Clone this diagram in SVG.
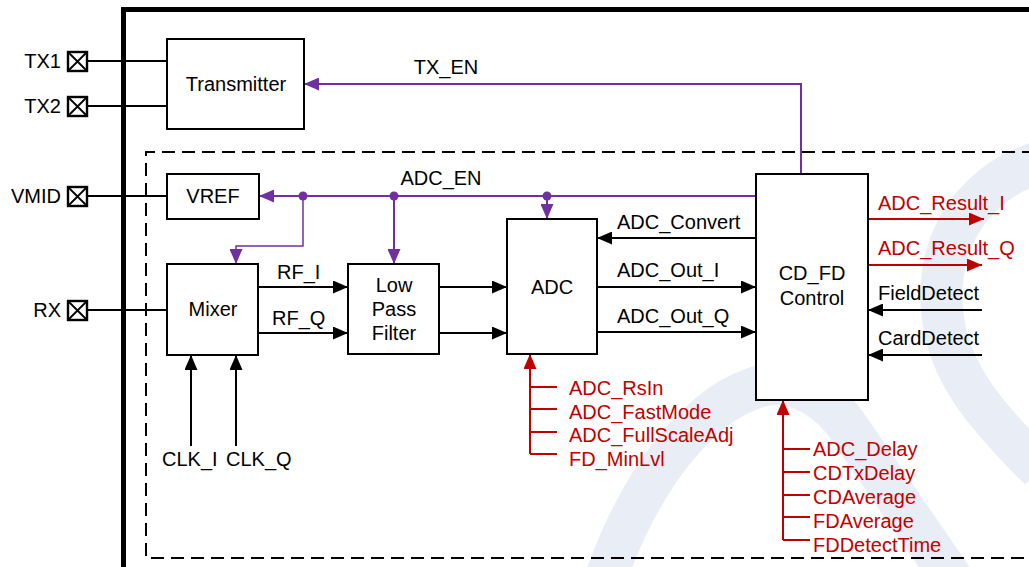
<svg xmlns="http://www.w3.org/2000/svg" width="1029" height="567" viewBox="0 0 1029 567">
<style>
text{font-family:"Liberation Sans",Arial,sans-serif;font-size:20px;fill:#000}
.r{fill:#c00000}
.mid{text-anchor:middle}
.end{text-anchor:end}
.box{fill:#fff;stroke:#000;stroke-width:2}
.k{fill:none;stroke:#000;stroke-width:2}
.p{fill:none;stroke:#7030a0;stroke-width:2}
.p1{fill:none;stroke:#7030a0;stroke-width:1.5}
.rd{fill:none;stroke:#c00000;stroke-width:2}
.wm{fill:none;stroke:#e9eef6;stroke-width:42;stroke-linecap:butt}
</style>
<defs>
<marker id="ak" markerUnits="userSpaceOnUse" markerWidth="15" markerHeight="13" viewBox="0 0 15 13" refX="15" refY="6.5" orient="auto"><path d="M0,0L15,6.5L0,13z" fill="#000"/></marker>
<marker id="ap" markerUnits="userSpaceOnUse" markerWidth="15" markerHeight="13" viewBox="0 0 15 13" refX="15" refY="6.5" orient="auto"><path d="M0,0L15,6.5L0,13z" fill="#7030a0"/></marker>
<marker id="ar" markerUnits="userSpaceOnUse" markerWidth="15" markerHeight="13" viewBox="0 0 15 13" refX="15" refY="6.5" orient="auto"><path d="M0,0L15,6.5L0,13z" fill="#c00000"/></marker>
<symbol id="pad" viewBox="0 0 19 19" overflow="visible"><rect x="0" y="0" width="19" height="19" fill="#fff" stroke="#000" stroke-width="2.4"/><path d="M0,0L19,19M19,0L0,19" stroke="#000" stroke-width="1.8"/></symbol>
</defs>
<rect width="1029" height="567" fill="#fff"/>
<g id="watermark">
<path class="wm" d="M1045,160 C960,185 930,260 945,330 C955,380 990,420 1040,470"/>
<path class="wm" d="M605,580 C640,480 700,400 765,385 C800,380 830,400 850,430 L960,590"/>
</g>
<g id="frame">
<path d="M123.5,567V9.5H1029" fill="none" stroke="#000" stroke-width="5"/>
<path d="M1035,152H146V558H1035" fill="none" stroke="#000" stroke-width="2" stroke-dasharray="13,7"/>
</g>
<g id="connectors">
<path class="k" d="M87,61H167M87,106H167M87,196H167M87,310H167"/>
<path class="p" d="M801,174V84H304" marker-end="url(#ap)"/>
<path class="p" d="M756,196H259" marker-end="url(#ap)"/>
<path class="p1" d="M303,196V246H236V264" marker-end="url(#ap)"/>
<path class="p" d="M394,196V264" marker-end="url(#ap)"/>
<path class="p" d="M547,196V219" marker-end="url(#ap)"/>
<circle cx="303" cy="196" r="4.5" fill="#7030a0"/>
<circle cx="394" cy="196" r="4.5" fill="#7030a0"/>
<circle cx="547" cy="196" r="4.5" fill="#7030a0"/>
<path class="k" d="M258,287H348" marker-end="url(#ak)"/>
<path class="k" d="M258,333H348" marker-end="url(#ak)"/>
<path class="k" d="M439,287H507" marker-end="url(#ak)"/>
<path class="k" d="M439,333H507" marker-end="url(#ak)"/>
<path class="k" d="M756,238H597" marker-end="url(#ak)"/>
<path class="k" d="M597,287H756" marker-end="url(#ak)"/>
<path class="k" d="M597,332H756" marker-end="url(#ak)"/>
<path class="k" d="M982,310H868" marker-end="url(#ak)"/>
<path class="k" d="M982,355H868" marker-end="url(#ak)"/>
<path class="k" d="M191,446V355" marker-end="url(#ak)"/>
<path class="k" d="M236,446V355" marker-end="url(#ak)"/>
<path class="rd" d="M868,219H984" marker-end="url(#ar)"/>
<path class="rd" d="M868,265H982" marker-end="url(#ar)"/>
<path class="rd" d="M530,454V354" marker-end="url(#ar)"/>
<path class="rd" d="M530,387H557M530,409H557M530,432H557M530,454H557"/>
<path class="rd" d="M783,540V400" marker-end="url(#ar)"/>
<path class="rd" d="M783,449H810M783,472H810M783,495H810M783,517H810M783,540H810"/>
</g>
<g id="pads">
<use href="#pad" x="68" y="52" width="19" height="19"/>
<use href="#pad" x="68" y="97" width="19" height="19"/>
<use href="#pad" x="68" y="187" width="19" height="19"/>
<use href="#pad" x="68" y="301" width="19" height="19"/>
<text class="end" x="61" y="68">TX1</text>
<text class="end" x="61" y="113">TX2</text>
<text class="end" x="61" y="203">VMID</text>
<text class="end" x="61" y="317">RX</text>
</g>
<g id="transmitter"><rect class="box" x="167" y="39" width="137" height="90"/><text class="mid" x="236" y="91">Transmitter</text></g>
<g id="vref"><rect class="box" x="167" y="174" width="92" height="45"/><text class="mid" x="213" y="203">VREF</text></g>
<g id="mixer"><rect class="box" x="167" y="264" width="91" height="91"/><text class="mid" x="213" y="316">Mixer</text></g>
<g id="lpf"><rect class="box" x="348" y="264" width="91" height="90"/><text class="mid" x="394" y="292">Low</text><text class="mid" x="394" y="316">Pass</text><text class="mid" x="394" y="340">Filter</text></g>
<g id="adc"><rect class="box" x="507" y="219" width="90" height="135"/><text class="mid" x="552" y="294">ADC</text></g>
<g id="cdfd"><rect class="box" x="756" y="174" width="112" height="226"/><text class="mid" x="812" y="280">CD_FD</text><text class="mid" x="812" y="305">Control</text></g>
<g id="labels">
<text class="mid" x="446" y="74">TX_EN</text>
<text class="mid" x="441" y="185">ADC_EN</text>
<text x="277" y="279">RF_I</text>
<text x="272" y="325">RF_Q</text>
<text x="162" y="466">CLK_I</text>
<text x="226" y="466">CLK_Q</text>
<text x="617" y="229">ADC_Convert</text>
<text x="617" y="277">ADC_Out_I</text>
<text x="617" y="323">ADC_Out_Q</text>
<text class="r" x="878" y="210">ADC_Result_I</text>
<text class="r" x="878" y="255">ADC_Result_Q</text>
<text x="878" y="300">FieldDetect</text>
<text x="878" y="345">CardDetect</text>
<text class="r" x="569" y="395">ADC_RsIn</text>
<text class="r" x="569" y="418.7">ADC_FastMode</text>
<text class="r" x="569" y="442.3">ADC_FullScaleAdj</text>
<text class="r" x="569" y="466">FD_MinLvl</text>
<text class="r" x="813" y="456">ADC_Delay</text>
<text class="r" x="813" y="480">CDTxDelay</text>
<text class="r" x="813" y="504">CDAverage</text>
<text class="r" x="813" y="528">FDAverage</text>
<text class="r" x="813" y="552">FDDetectTime</text>
</g>
</svg>
